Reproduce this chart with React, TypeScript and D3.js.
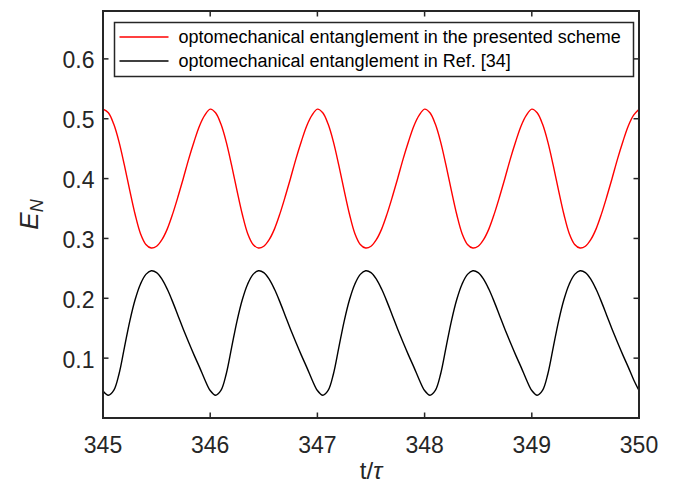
import * as d3 from 'd3';

// sampled every 0.05 in t/tau, from 345 to 350
const tStart = 345;
const tStep = 0.05;
const xTicks = [345, 346, 347, 348, 349, 350];
const yTicks = [0.1, 0.2, 0.3, 0.4, 0.5, 0.6];
const legendLabels = [
  'optomechanical entanglement in the presented scheme',
  'optomechanical entanglement in Ref. [34]',
];
const seriesColors = ['#ff0000', '#000000'];

const presented = [
  0.516, 0.510, 0.491, 0.461, 0.422, 0.380, 0.340, 0.308, 0.290, 0.284, 0.287, 0.298, 0.316, 0.341, 0.370, 0.401, 0.433, 0.462, 0.488, 0.506,
  0.516, 0.510, 0.491, 0.461, 0.422, 0.380, 0.340, 0.308, 0.290, 0.284, 0.287, 0.298, 0.316, 0.341, 0.370, 0.401, 0.433, 0.462, 0.488, 0.506,
  0.516, 0.510, 0.491, 0.461, 0.422, 0.380, 0.340, 0.308, 0.290, 0.284, 0.287, 0.298, 0.316, 0.341, 0.370, 0.401, 0.433, 0.462, 0.488, 0.506,
  0.516, 0.510, 0.491, 0.461, 0.422, 0.380, 0.340, 0.308, 0.290, 0.284, 0.287, 0.298, 0.316, 0.341, 0.370, 0.401, 0.433, 0.462, 0.488, 0.506,
  0.516, 0.510, 0.491, 0.461, 0.422, 0.380, 0.340, 0.308, 0.290, 0.284, 0.287, 0.298, 0.316, 0.341, 0.370, 0.401, 0.433, 0.462, 0.488, 0.506,
  0.516,
];

const reference = [
  0.045, 0.038, 0.046, 0.074, 0.118, 0.162, 0.198, 0.224, 0.240, 0.246, 0.243, 0.232, 0.215, 0.194, 0.171, 0.148, 0.126, 0.105, 0.085, 0.064,
  0.046, 0.038, 0.046, 0.074, 0.118, 0.162, 0.198, 0.224, 0.240, 0.246, 0.243, 0.232, 0.215, 0.194, 0.171, 0.148, 0.126, 0.105, 0.085, 0.064,
  0.046, 0.038, 0.046, 0.074, 0.118, 0.162, 0.198, 0.224, 0.240, 0.246, 0.243, 0.232, 0.215, 0.194, 0.171, 0.148, 0.126, 0.105, 0.085, 0.064,
  0.046, 0.038, 0.046, 0.074, 0.118, 0.162, 0.198, 0.224, 0.240, 0.246, 0.243, 0.232, 0.215, 0.194, 0.171, 0.148, 0.126, 0.105, 0.085, 0.064,
  0.046, 0.038, 0.046, 0.074, 0.118, 0.162, 0.198, 0.224, 0.240, 0.246, 0.243, 0.232, 0.215, 0.194, 0.171, 0.148, 0.126, 0.105, 0.085, 0.064,
  0.046,
];

const W = 681, H = 492;
const M = { left: 103, right: 639, top: 11, bottom: 418 };
const AXIS = '#262626';
const FONT = '"Liberation Sans", Arial, Helvetica, sans-serif';

export default function App() {
  const x = d3.scaleLinear().domain([345, 350]).range([M.left, M.right]);
  const y = d3.scaleLinear().domain([0, 0.68]).range([M.bottom, M.top]);

  const line = d3.line<number>()
    .x((_, i) => x(tStart + i * tStep))
    .y(d => y(d))
    .curve(d3.curveCatmullRom.alpha(0.5));

  const series = [presented, reference];
  const tickLen = 5.5;

  // legend box
  const lg = { x: 114.5, y: 22.5, w: 519, h: 54 };

  return (
    <svg width={W} height={H} style={{ position: 'absolute', left: 0, top: 0, background: '#fff' }}
      fontFamily={FONT}>
      <rect x={0} y={0} width={W} height={H} fill="#fff" />

      {/* curves */}
      <g fill="none" strokeWidth={1.4}>
        {series.map((s, k) => (
          <path key={k} d={line(s) ?? ''} stroke={seriesColors[k]} />
        ))}
      </g>

      {/* ticks on every side, pointing in */}
      <g stroke={AXIS} strokeWidth={1.5}>
        {xTicks.map(t => (
          <g key={'x' + t}>
            <line x1={x(t)} x2={x(t)} y1={M.bottom} y2={M.bottom - tickLen} />
            <line x1={x(t)} x2={x(t)} y1={M.top} y2={M.top + tickLen} />
          </g>
        ))}
        {yTicks.map(v => (
          <g key={'y' + v}>
            <line x1={M.left} x2={M.left + tickLen} y1={y(v)} y2={y(v)} />
            <line x1={M.right} x2={M.right - tickLen} y1={y(v)} y2={y(v)} />
          </g>
        ))}
      </g>

      {/* box */}
      <rect x={M.left} y={M.top} width={M.right - M.left} height={M.bottom - M.top}
        fill="none" stroke={AXIS} strokeWidth={2} />

      {/* tick labels */}
      <g fill={AXIS} fontSize={23}>
        {xTicks.map(t => (
          <text key={'xl' + t} x={x(t)} y={453} textAnchor="middle">{t}</text>
        ))}
        {yTicks.map(v => (
          <text key={'yl' + v} x={94.5} y={y(v) + 9.5} textAnchor="end">{d3.format('.1f')(v)}</text>
        ))}
      </g>

      {/* axis labels */}
      <text x={(M.left + M.right) / 2} y={479} textAnchor="middle" fontSize={24} fill={AXIS}>
        t/<tspan fontStyle="italic">τ</tspan>
      </text>
      <text transform={`translate(38,${(M.top + M.bottom) / 2}) rotate(-90)`} textAnchor="middle"
        fontSize={26} fill={AXIS}>
        <tspan fontStyle="italic">E</tspan>
        <tspan fontStyle="italic" fontSize={18} dy={5}>N</tspan>
      </text>

      {/* legend */}
      <rect x={lg.x} y={lg.y} width={lg.w} height={lg.h} fill="#fff" stroke={AXIS} strokeWidth={1.5} />
      {legendLabels.map((lab, k) => (
        <g key={lab}>
          <line x1={lg.x + 5} x2={lg.x + 54} y1={lg.y + 14.5 + k * 24} y2={lg.y + 14.5 + k * 24}
            stroke={seriesColors[k]} strokeWidth={1.5} />
          <text x={lg.x + 64} y={lg.y + 20.5 + k * 24} fontSize={18} fill="#000">{lab}</text>
        </g>
      ))}
    </svg>
  );
}
